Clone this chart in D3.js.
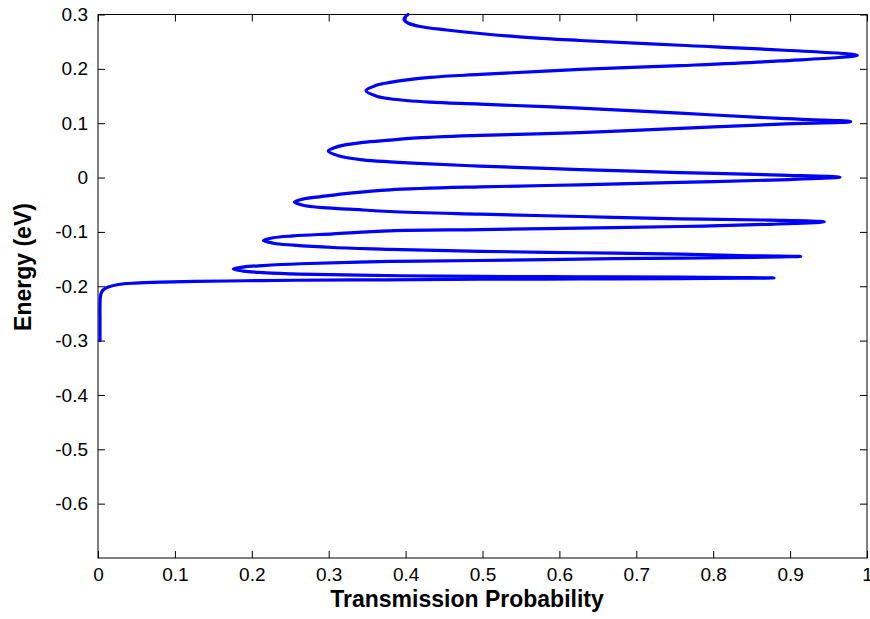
<!DOCTYPE html>
<html>
<head>
<meta charset="utf-8">
<script src="https://cdn.jsdelivr.net/npm/d3@7/dist/d3.min.js"></script>
<style>
  html, body { margin: 0; padding: 0; background: #fff; }
  svg { display: block; font-family: "Liberation Sans", Arial, sans-serif; }
</style>
</head>
<body>
<svg id="chart" width="870" height="619"></svg>
<script>
// Transmission probability T(E) through a multi-barrier structure, sampled along energy
const energy = [
  -0.3000, -0.2616, -0.2340, -0.2193, -0.2110, -0.2055, -0.2015, -0.1967, -0.1941, -0.1923,
  -0.1912, -0.1899, -0.1890, -0.1881, -0.1871, -0.1866, -0.1858, -0.1853, -0.1847,
  -0.1840, -0.1833, -0.1825, -0.1820, -0.1807, -0.1776, -0.1748, -0.1721, -0.1684,
  -0.1647, -0.1619, -0.1586, -0.1544, -0.1526, -0.1500, -0.1482, -0.1467, -0.1452,
  -0.1439, -0.1408, -0.1384, -0.1357, -0.1320, -0.1287, -0.1243, -0.1208, -0.1158,
  -0.1108, -0.1074, -0.1035, -0.0980, -0.0958, -0.0930, -0.0901, -0.0860, -0.0814,
  -0.0783, -0.0759, -0.0717, -0.0673, -0.0625, -0.0581, -0.0550, -0.0515, -0.0452,
  -0.0390, -0.0355, -0.0287, -0.0226, -0.0171, -0.0134, -0.0088, -0.0042, 0.0007,
  0.0046, 0.0092, 0.0147, 0.0210, 0.0265, 0.0289, 0.0325, 0.0401, 0.0487,
  0.0574, 0.0647, 0.0689, 0.0726, 0.0776, 0.0827, 0.0904, 0.0983, 0.1029,
  0.1088, 0.1184, 0.1276, 0.1351, 0.1386, 0.1450, 0.1502, 0.1599,
  0.1697, 0.1750, 0.1842, 0.1897, 0.1989, 0.2059, 0.2145, 0.2250,
  0.2347, 0.2434, 0.2522, 0.2574, 0.2651, 0.2715, 0.2779, 0.2844, 0.2908, 0.2963, 0.3000
];
const transmission = [
  0.0026, 0.0026, 0.0026, 0.0031, 0.0046, 0.0078, 0.0134, 0.0264, 0.0481, 0.0828,
  0.1261, 0.1912, 0.2562, 0.3732, 0.4967, 0.6268, 0.7568, 0.8348, 0.8791,
  0.8348, 0.7568, 0.6268, 0.4967, 0.3927, 0.2627, 0.2146, 0.1889, 0.1759,
  0.1889, 0.2146, 0.2627, 0.3797, 0.4967, 0.6268, 0.7568, 0.8479, 0.9138,
  0.8479, 0.7568, 0.6268, 0.4967, 0.3797, 0.3056, 0.2540, 0.2280, 0.2150,
  0.2280, 0.2540, 0.3056, 0.3797, 0.4967, 0.6268, 0.7568, 0.8739, 0.9445,
  0.8739, 0.7568, 0.6268, 0.4967, 0.3797, 0.3277, 0.2878, 0.2683, 0.2553,
  0.2683, 0.2878, 0.3277, 0.3797, 0.4967, 0.6268, 0.7568, 0.8869, 0.9649,
  0.8869, 0.7568, 0.6268, 0.4967, 0.4096, 0.3797, 0.3446, 0.3125, 0.2995,
  0.3125, 0.3446, 0.3797, 0.4096, 0.4967, 0.6268, 0.7568, 0.8869, 0.9788,
  0.8869, 0.7568, 0.6268, 0.4967, 0.4317, 0.3797, 0.3615, 0.3485,
  0.3615, 0.3797, 0.4317, 0.4967, 0.6268, 0.7568, 0.8869, 0.9874,
  0.8869, 0.7568, 0.6268, 0.5618, 0.4967, 0.4534, 0.4187, 0.4031, 0.3979, 0.3999, 0.4031
];

const xTicks = [0, 0.1, 0.2, 0.3, 0.4, 0.5, 0.6, 0.7, 0.8, 0.9, 1];
const yTicks = [0.3, 0.2, 0.1, 0, -0.1, -0.2, -0.3, -0.4, -0.5, -0.6];
const xLabel = "Transmission Probability";
const yLabel = "Energy (eV)";

const svg = d3.select("#chart");
const margin = { left: 98, top: 14.5, right: 3, bottom: 61 };
const W = 870 - margin.left - margin.right;
const H = 619 - margin.top - margin.bottom;

const x = d3.scaleLinear().domain([0, 1]).range([0, W]);
const y = d3.scaleLinear().domain([-0.7, 0.3]).range([H, 0]);

const g = svg.append("g").attr("transform", `translate(${margin.left},${margin.top})`);

const fmt = d => (d === 0 ? "0" : d3.format(".1f")(d)).replace("−", "-");
const tickLen = 7;

// bottom axis with labels
const axBottom = g.append("g").attr("transform", `translate(0,${H})`)
  .call(d3.axisBottom(x).tickValues(xTicks).tickFormat(d => d === 1 ? "1" : fmt(d))
    .tickSizeInner(-tickLen).tickSizeOuter(0).tickPadding(10));
// top axis mirrors ticks
const axTop = g.append("g")
  .call(d3.axisTop(x).tickValues(xTicks).tickFormat("").tickSizeInner(-tickLen).tickSizeOuter(0));
// left axis with labels
const axLeft = g.append("g")
  .call(d3.axisLeft(y).tickValues(yTicks).tickFormat(fmt)
    .tickSizeInner(-tickLen).tickSizeOuter(0).tickPadding(10));
// right axis mirrors ticks
const axRight = g.append("g").attr("transform", `translate(${W},0)`)
  .call(d3.axisRight(y).tickValues(yTicks).tickFormat("").tickSizeInner(-tickLen).tickSizeOuter(0));

[axBottom, axTop, axLeft, axRight].forEach(a => {
  a.select(".domain").remove();
  a.selectAll(".tick line").attr("stroke", "#000").attr("stroke-width", 1);
  a.selectAll(".tick text").attr("fill", "#000")
    .style("font-family", "'Liberation Sans', Arial, sans-serif").style("font-size", "19px");
});

// frame
g.append("rect").attr("x", 0).attr("y", 0).attr("width", W).attr("height", H)
  .attr("fill", "none").attr("stroke", "#000").attr("stroke-width", 1);

// transmission curve
const pts = energy.map((e, i) => [transmission[i], e]);
const line = d3.line()
  .x(d => x(d[0]))
  .y(d => y(d[1]))
  .curve(d3.curveCatmullRom.alpha(0.5));

g.append("path").datum(pts)
  .attr("d", line)
  .attr("fill", "none")
  .attr("stroke", "#0000ff")
  .attr("stroke-width", 3.2)
  .attr("stroke-linejoin", "round")
  .attr("stroke-linecap", "round");

// axis titles
svg.append("text")
  .attr("x", 467).attr("y", 607)
  .attr("text-anchor", "middle")
  .style("font-weight", "bold").style("font-size", "23px")
  .text(xLabel);

svg.append("text")
  .attr("transform", "translate(31,267) rotate(-90)")
  .attr("text-anchor", "middle")
  .style("font-weight", "bold").style("font-size", "23px")
  .text(yLabel);
</script>
</body>
</html>
